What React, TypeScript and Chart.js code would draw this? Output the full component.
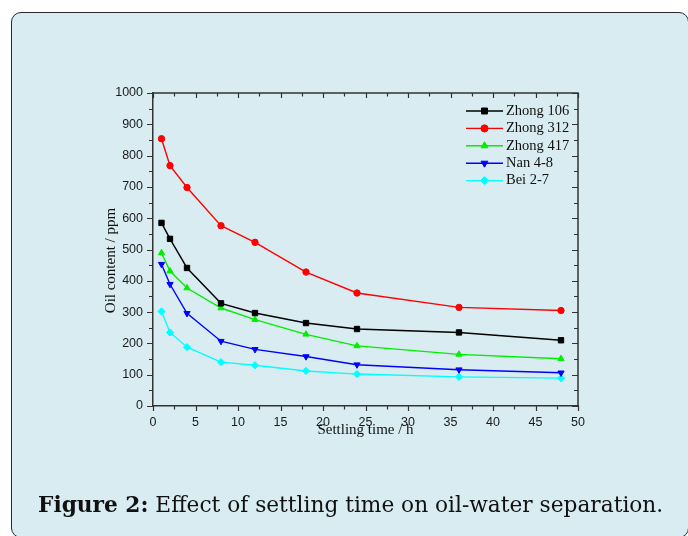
import React, { useEffect, useRef } from "react";
import { Chart, registerables } from "chart.js";
import { drawPoint } from "chart.js/helpers";

Chart.register(...registerables);

// ---- data ----
const settlingTimes = [1, 2, 4, 8, 12, 18, 24, 36, 48];
const seriesNames = ["Zhong 106", "Zhong 312", "Zhong 417", "Nan 4-8", "Bei 2-7"];
const zhong106 = [585, 534, 441, 328, 297, 265, 246, 235, 210];
const zhong312 = [854, 768, 698, 576, 523, 428, 361, 315, 305];
const zhong417 = [489, 431, 377, 313, 276, 229, 192, 165, 151];
const nan48 = [453, 389, 296, 207, 181, 158, 132, 116, 106];
const bei27 = [302, 235, 188, 140, 130, 112, 102, 93, 89];
const xTickValues = [0, 5, 10, 15, 20, 25, 30, 35, 40, 45, 50];
const yTickValues = [0, 100, 200, 300, 400, 500, 600, 700, 800, 900, 1000];
const xTitle = "Settling time / h";
const yTitle = "Oil content / ppm";
const captionBold = "Figure 2:";
const captionText = " Effect of settling time on oil-water separation.";

// ---- styles ----
const seriesColors = ["#000000", "#ff0000", "#00ee00", "#0000ff", "#00ffff"];
const seriesPointStyles = ["rect", "circle", "triangle", "triangle", "rectRot"];
const seriesPointRotation = [0, 0, 0, 180, 0];
const seriesPointRadius = [3.8, 3.2, 3.6, 3.6, 3.6];
const AXIS_COLOR = "#333333";
const PANEL_BG = "#d8ecf1";

const seriesValues = [zhong106, zhong312, zhong417, nan48, bei27];

const frameTicks = {
  id: "frameTicks",
  afterDraw(chart: any) {
    const { ctx, chartArea: a, scales } = chart;
    const xs = scales.x;
    const ys = scales.y;
    ctx.save();
    ctx.strokeStyle = AXIS_COLOR;
    ctx.lineWidth = 1.5;
    ctx.beginPath();
    ctx.moveTo(a.left, a.top);
    ctx.lineTo(a.right, a.top);
    ctx.lineTo(a.right, a.bottom);
    ctx.stroke();
    ctx.lineWidth = 1.2;
    const xMin = xTickValues[0];
    const xMax = xTickValues[xTickValues.length - 1];
    const xStep = xTickValues[1] - xTickValues[0];
    ctx.beginPath();
    for (let v = xMin; v <= xMax + 1e-9; v += xStep / 2) {
      const px = Math.round(xs.getPixelForValue(v)) + 0.5;
      const major = Math.abs(v / xStep - Math.round(v / xStep)) < 1e-6;
      const len = major ? 5 : 3.5;
      ctx.moveTo(px, a.bottom);
      ctx.lineTo(px, a.bottom + len);
      ctx.moveTo(px, a.top);
      ctx.lineTo(px, a.top + len);
    }
    const yMin = yTickValues[0];
    const yMax = yTickValues[yTickValues.length - 1];
    const yStep = yTickValues[1] - yTickValues[0];
    for (let v = yMin; v <= yMax + 1e-9; v += yStep / 2) {
      const py = Math.round(ys.getPixelForValue(v)) + 0.5;
      const major = Math.abs(v / yStep - Math.round(v / yStep)) < 1e-6;
      const len = major ? 6 : 4;
      ctx.moveTo(a.left, py);
      ctx.lineTo(a.left - len, py);
      ctx.moveTo(a.right, py);
      ctx.lineTo(a.right - len, py);
    }
    ctx.stroke();

    // y axis title
    ctx.fillStyle = "#111";
    ctx.font = '15px "Liberation Serif", "Times New Roman", serif';
    ctx.textAlign = "center";
    ctx.textBaseline = "middle";
    ctx.translate(a.left - 42, (a.top + a.bottom) / 2 + 11);
    ctx.rotate(-Math.PI / 2);
    ctx.fillText(yTitle, 0, 0);
    ctx.restore();
  },
};

const innerLegend = {
  id: "innerLegend",
  afterDatasetsDraw(chart: any) {
    const { ctx, chartArea: a } = chart;
    const x0 = a.right - 112;
    const y0 = a.top + 18;
    const rowH = 17.4;
    ctx.save();
    chart.data.datasets.forEach((ds: any, i: number) => {
      const y = y0 + i * rowH;
      ctx.strokeStyle = ds.borderColor;
      ctx.lineWidth = ds.borderWidth;
      ctx.beginPath();
      ctx.moveTo(x0, y);
      ctx.lineTo(x0 + 37, y);
      ctx.stroke();
      ctx.fillStyle = ds.pointBackgroundColor;
      ctx.strokeStyle = ds.pointBorderColor;
      ctx.lineWidth = 1;
      drawPoint(ctx, {
        pointStyle: ds.pointStyle,
        rotation: ds.pointRotation,
        radius: ds.pointRadius + 0.4,
        borderWidth: 1,
      }, x0 + 18.5, y);
      ctx.fillStyle = "#111";
      ctx.font = '14.5px "Liberation Serif", "Times New Roman", serif';
      ctx.textAlign = "left";
      ctx.textBaseline = "middle";
      ctx.fillText(ds.label, x0 + 40, y);
    });
    ctx.restore();
  },
};

export default function App() {
  const canvasRef = useRef<HTMLCanvasElement | null>(null);

  useEffect(() => {
    if (!canvasRef.current) return;
    const datasets = seriesNames.map((name, i) => ({
      label: name,
      data: settlingTimes.map((t, j) => ({ x: t, y: seriesValues[i][j] })),
      borderColor: seriesColors[i],
      backgroundColor: seriesColors[i],
      pointBackgroundColor: seriesColors[i],
      pointBorderColor: seriesColors[i],
      pointStyle: seriesPointStyles[i],
      pointRotation: seriesPointRotation[i],
      pointRadius: seriesPointRadius[i],
      pointBorderWidth: 1,
      borderWidth: 1.4,
      tension: 0,
      fill: false,
    }));
    const tickFont = { family: '"Liberation Sans", Arial, sans-serif', size: 12.5 };
    const chart = new Chart(canvasRef.current, {
      type: "line",
      data: { datasets },
      options: {
        animation: false,
        responsive: false,
        devicePixelRatio: 1,
        layout: { padding: { top: 93, left: 0, right: 110, bottom: 0 } },
        plugins: { legend: { display: false }, tooltip: { enabled: false } },
        scales: {
          x: {
            type: "linear",
            min: xTickValues[0],
            max: xTickValues[xTickValues.length - 1],
            afterBuildTicks: (s: any) => {
              s.ticks = xTickValues.map((v) => ({ value: v }));
            },
            afterFit: (s: any) => {
              s.height = 130;
            },
            grid: { display: false, drawTicks: false },
            border: { display: true, color: AXIS_COLOR, width: 1.5 },
            ticks: {
              font: tickFont,
              color: "#1a1a1a",
              padding: 9,
              maxRotation: 0,
              autoSkip: false,
              callback: (v: any) => String(v),
            },
            title: {
              display: true,
              text: xTitle,
              color: "#111",
              font: { family: '"Liberation Serif", "Times New Roman", serif', size: 15 },
              padding: { top: 0, bottom: 97 },
            },
          },
          y: {
            type: "linear",
            min: yTickValues[0],
            max: yTickValues[yTickValues.length - 1],
            afterBuildTicks: (s: any) => {
              s.ticks = yTickValues.map((v) => ({ value: v }));
            },
            afterFit: (s: any) => {
              s.width = 153;
            },
            grid: { display: false, drawTicks: false },
            border: { display: true, color: AXIS_COLOR, width: 1.5 },
            ticks: {
              font: tickFont,
              color: "#1a1a1a",
              padding: 10,
              autoSkip: false,
              callback: (v: any) => String(v),
            },
          },
        },
      },
      plugins: [frameTicks, innerLegend],
    } as any);
    return () => chart.destroy();
  }, []);

  return (
    <div style={{ position: "absolute", left: 0, top: 0, width: 688, height: 536, background: "#ffffff", overflow: "hidden" }}>
      <div
        style={{
          position: "absolute",
          left: 11,
          top: 12,
          width: 678,
          height: 526,
          boxSizing: "border-box",
          border: "1.5px solid #2a2a2a",
          borderRadius: 10,
          background: PANEL_BG,
        }}
      />
      <canvas
        ref={canvasRef}
        width={688}
        height={536}
        style={{ position: "absolute", left: 0, top: 0, width: 688, height: 536 }}
      />
      <div
        style={{
          position: "absolute",
          left: 38,
          top: 491,
          whiteSpace: "nowrap",
          fontFamily: '"DejaVu Serif", serif',
          fontSize: 21.7,
          lineHeight: "28px",
          color: "#111",
        }}
      >
        <b>{captionBold}</b>
        {captionText}
      </div>
    </div>
  );
}
